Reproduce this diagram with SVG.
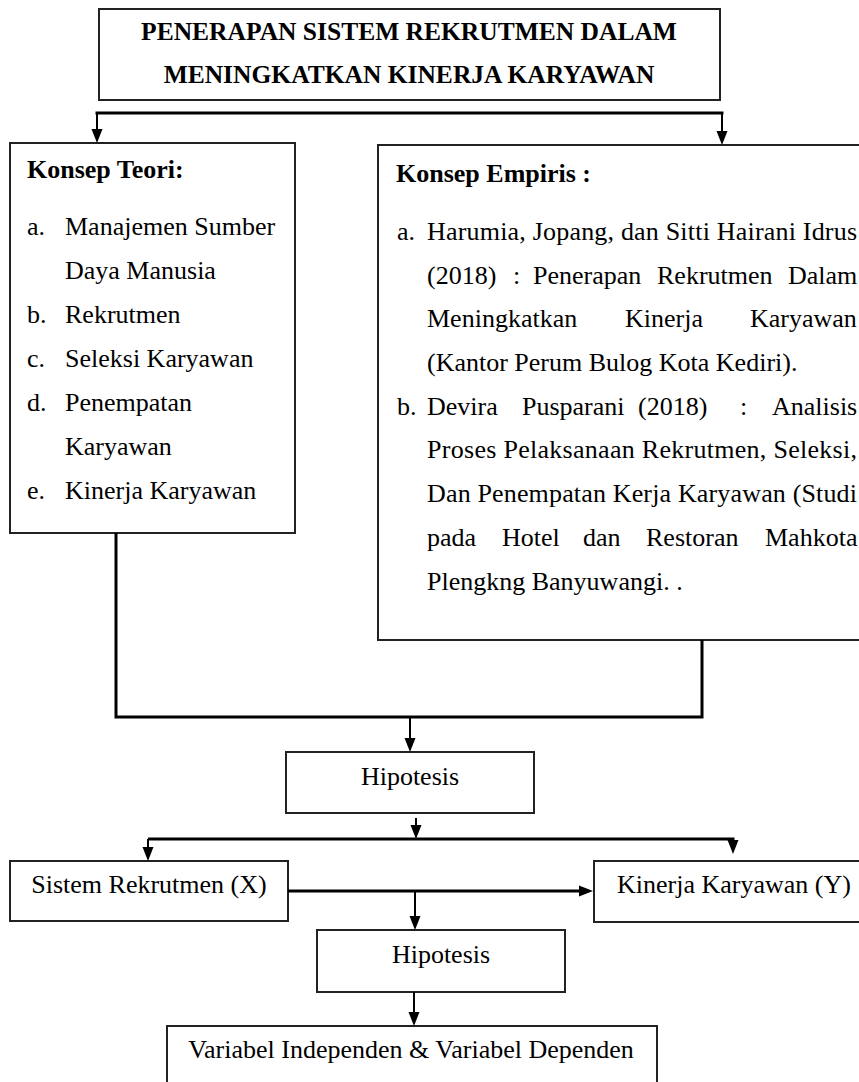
<svg xmlns="http://www.w3.org/2000/svg" width="859" height="1082" viewBox="0 0 859 1082">
<style>
  .box { fill: #fff; stroke: #222; stroke-width: 2; }
  .t { font-family: "Liberation Serif", "Times New Roman", serif; font-size: 26px; fill: #000; }
  .b { font-weight: bold; }
  .title { font-family: "Liberation Serif", "Times New Roman", serif; font-size: 25.5px; font-weight: bold; fill: #000; }
  .c { fill: none; stroke: #000; stroke-width: 3; }
  .ca { fill: none; stroke: #000; stroke-width: 2; marker-end: url(#ah); }
  .cb { fill: none; stroke: #000; stroke-width: 3; marker-end: url(#ah); }
</style>
<defs>
  <marker id="ah" markerUnits="userSpaceOnUse" markerWidth="15" markerHeight="12" refX="1" refY="5.5" orient="auto" viewBox="0 0 15 11">
    <path d="M0,0 L14,5.5 L0,11 z" fill="#000"/>
  </marker>
</defs>
<rect width="859" height="1082" fill="#fff"/>

<g id="title">
  <rect class="box" x="99" y="9" width="621" height="91"/>
  <text class="title" x="409" y="40" text-anchor="middle">PENERAPAN SISTEM REKRUTMEN DALAM</text>
  <text class="title" x="409" y="83" text-anchor="middle">MENINGKATKAN KINERJA KARYAWAN</text>
</g>

<g id="konsep-teori">
  <rect class="box" x="10" y="143" width="285" height="390"/>
  <text class="t b" x="27" y="178">Konsep Teori:</text>
  <text class="t" x="27" y="235">a.</text><text class="t" x="65" y="235">Manajemen Sumber</text>
  <text class="t" x="65" y="279">Daya Manusia</text>
  <text class="t" x="27" y="323">b.</text><text class="t" x="65" y="323">Rekrutmen</text>
  <text class="t" x="27" y="367">c.</text><text class="t" x="65" y="367">Seleksi Karyawan</text>
  <text class="t" x="27" y="411">d.</text><text class="t" x="65" y="411">Penempatan</text>
  <text class="t" x="65" y="455">Karyawan</text>
  <text class="t" x="27" y="499">e.</text><text class="t" x="65" y="499">Kinerja Karyawan</text>
</g>

<g id="konsep-empiris">
  <rect class="box" x="378" y="145" width="486" height="495"/>
  <text class="t b" x="396" y="182">Konsep Empiris :</text>
  <text class="t" x="397" y="240">a.</text>
  <text class="t" x="427" y="240" textLength="430" lengthAdjust="spacing">Harumia, Jopang, dan Sitti Hairani Idrus</text>
  <text class="t" y="284"><tspan x="427">(2018)</tspan><tspan x="513">:</tspan><tspan x="533">Penerapan</tspan><tspan x="657">Rekrutmen</tspan><tspan x="788">Dalam</tspan></text>
  <text class="t" y="327"><tspan x="427">Meningkatkan</tspan><tspan x="625">Kinerja</tspan><tspan x="750">Karyawan</tspan></text>
  <text class="t" x="427" y="371">(Kantor Perum Bulog Kota Kediri).</text>
  <text class="t" x="397" y="415">b.</text>
  <text class="t" y="415"><tspan x="427">Devira</tspan><tspan x="522">Pusparani</tspan><tspan x="638">(2018)</tspan><tspan x="740">:</tspan><tspan x="772">Analisis</tspan></text>
  <text class="t" x="427" y="458" textLength="430" lengthAdjust="spacing">Proses Pelaksanaan Rekrutmen, Seleksi,</text>
  <text class="t" x="427" y="502" textLength="430" lengthAdjust="spacing">Dan Penempatan Kerja Karyawan (Studi</text>
  <text class="t" y="546"><tspan x="427">pada</tspan><tspan x="502">Hotel</tspan><tspan x="583">dan</tspan><tspan x="646">Restoran</tspan><tspan x="765">Mahkota</tspan></text>
  <text class="t" x="427" y="590">Plengkng Banyuwangi. .</text>
</g>

<g id="hipotesis-1">
  <rect class="box" x="286" y="752" width="248" height="61"/>
  <text class="t" x="410" y="785" text-anchor="middle">Hipotesis</text>
</g>

<g id="sistem-rekrutmen">
  <rect class="box" x="10" y="861" width="278" height="60"/>
  <text class="t" x="149" y="893" text-anchor="middle">Sistem Rekrutmen (X)</text>
</g>

<g id="kinerja-karyawan">
  <rect class="box" x="594" y="861" width="280" height="61"/>
  <text class="t" x="734" y="893" text-anchor="middle">Kinerja Karyawan (Y)</text>
</g>

<g id="hipotesis-2">
  <rect class="box" x="317" y="930" width="248" height="62"/>
  <text class="t" x="441" y="963" text-anchor="middle">Hipotesis</text>
</g>

<g id="variabel">
  <rect class="box" x="167" y="1026" width="490" height="70"/>
  <text class="t" x="411" y="1058" text-anchor="middle">Variabel Independen &amp; Variabel Dependen</text>
</g>

<g id="connectors">
  <line class="c" x1="95.5" y1="113" x2="723.5" y2="113"/>
  <line class="ca" x1="97" y1="113" x2="97" y2="130"/>
  <line class="ca" x1="722" y1="113" x2="722" y2="132"/>
  <polyline class="c" points="116,533 116,717 702,717 702,640"/>
  <line class="ca" x1="410" y1="717" x2="410" y2="739"/>
  <line class="ca" x1="416" y1="818" x2="416" y2="826"/>
  <line class="c" x1="148" y1="839" x2="734.5" y2="839"/>
  <line class="ca" x1="148" y1="839" x2="148" y2="848"/>
  <line class="ca" x1="733" y1="839" x2="733" y2="841"/>
  <line class="cb" x1="288" y1="891" x2="580" y2="891"/>
  <line class="ca" x1="415" y1="891" x2="415" y2="917"/>
  <line class="ca" x1="414" y1="992" x2="414" y2="1013"/>
</g>
</svg>
